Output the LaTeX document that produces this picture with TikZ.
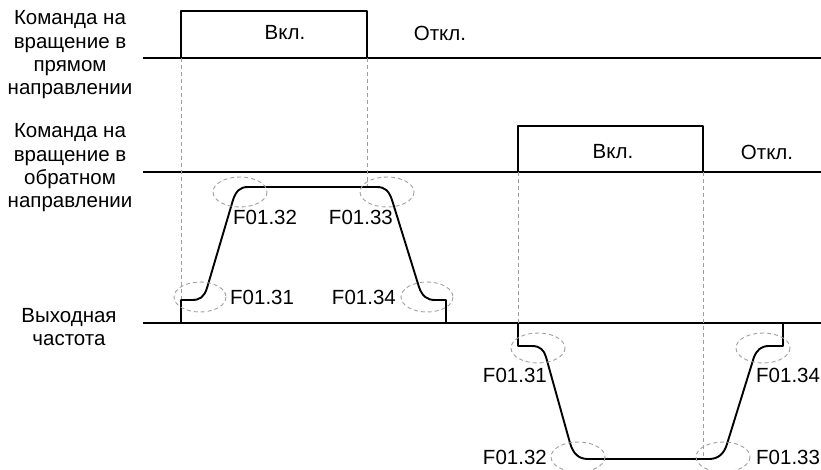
\documentclass[tikz,border=0pt]{standalone}
\usepackage{fontspec}
\setmainfont{Liberation Sans}
\begin{document}
\begin{tikzpicture}[x=1pt,y=-1pt,
  sig/.style={line width=1.9pt, line join=round},
  axis/.style={line width=1.9pt},
  guide/.style={gray!75, line width=0.9pt, dash pattern=on 4pt off 3pt},
  zone/.style={gray!75, line width=0.9pt, dash pattern=on 4pt off 3pt},
  lbl/.style={font=\fontsize{20.5}{23.3}\selectfont, inner sep=0pt},
  side/.style={font=\fontsize{20.5}{23.3}\selectfont, align=center, inner sep=0pt}]
\useasboundingbox (0,0) rectangle (821,469);
% left labels
\node[side] (l1) at (70,55) {Команда на\\вращение в\\прямом\\направлении};
\node[side] (l2) at (70,168) {Команда на\\вращение в\\обратном\\направлении};
\node[side] (l3) at (69,327) {Выходная\\частота};
% axes
\draw[axis] (143,58) -- (821,58);
\draw[axis] (143,172) -- (821,172);
\draw[axis] (143,323) -- (821,323);
% command pulses
\draw[sig] (181,58) -- (181,11) -- (367,11) -- (367,58);
\draw[sig] (518,172) -- (518,126) -- (703,126) -- (703,172);
\node[lbl] (on1) at (285,33) {Вкл.};
\node[lbl] (off1) at (440,33) {Откл.};
\node[lbl] (on2) at (613,152) {Вкл.};
\node[lbl] (off2) at (767,152) {Откл.};
% guides
\draw[guide] (181,58) -- (181,300);
\draw[guide] (367,58) -- (367,187);
\draw[guide] (518,172) -- (518,323);
\draw[guide] (703,172) -- (703,459);
% forward output
\draw[sig] (181,323) -- (181,300) -- (192,300) .. controls (200,300) and (204,297) .. (207,288)
  -- (233,200) .. controls (236,191) and (240,187) .. (248,187) -- (377,187)
  .. controls (385,187) and (389,191) .. (392,200) -- (419,287)
  .. controls (422,296) and (427,300) .. (435,300) -- (446,300) -- (446,323);
% reverse output
\draw[sig] (518,323) -- (518,346) -- (532,346) .. controls (540,346) and (544,350) .. (546,357)
  -- (570,443) .. controls (573,453) and (578,459) .. (588,459) -- (709,459)
  .. controls (718,459) and (724,454) .. (727,444) -- (754,357)
  .. controls (757,350) and (761,346) .. (769,346) -- (783,346) -- (783,323);
% zones
\draw[zone] (240,192) ellipse [x radius=27, y radius=15];
\draw[zone] (387,192) ellipse [x radius=27, y radius=15];
\draw[zone] (200,297) ellipse [x radius=26, y radius=15];
\draw[zone] (427,297) ellipse [x radius=26, y radius=15];
\draw[zone] (538,348) ellipse [x radius=27, y radius=15];
\draw[zone] (763,348) ellipse [x radius=27, y radius=15];
\draw[zone] (578,457) ellipse [x radius=27, y radius=15];
\draw[zone] (723,457) ellipse [x radius=27, y radius=15];
% parameter labels
\node[lbl, anchor=west] (a32) at (233,217) {F01.32};
\node[lbl, anchor=east] (a33) at (393,217) {F01.33};
\node[lbl, anchor=west] (a31) at (230,297) {F01.31};
\node[lbl, anchor=east] (a34) at (396,297) {F01.34};
\node[lbl, anchor=east] (b31) at (547,375) {F01.31};
\node[lbl, anchor=west] (b34) at (756,375) {F01.34};
\node[lbl, anchor=east] (b32) at (547,457) {F01.32};
\node[lbl, anchor=west] (b33) at (756,457) {F01.33};
\end{tikzpicture}
\end{document}
